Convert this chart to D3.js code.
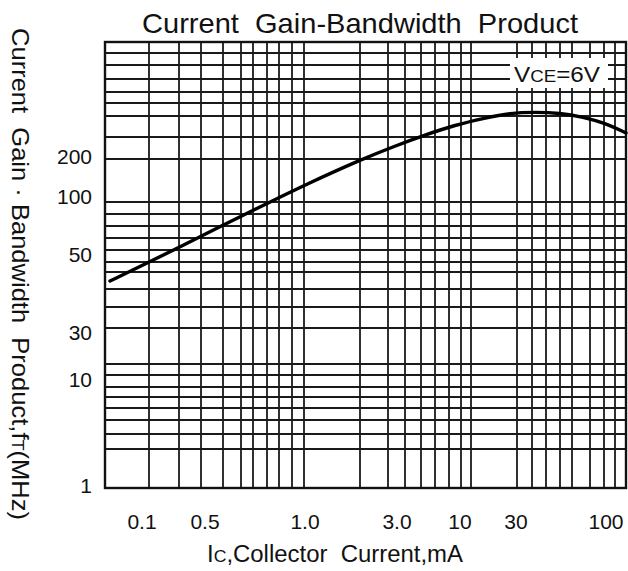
<!DOCTYPE html>
<html>
<head>
<meta charset="utf-8">
<script src="https://cdn.jsdelivr.net/npm/d3@7"></script>
<style>
    html, body { margin: 0; padding: 0; background: #fff; }
    svg text { font-family: "Liberation Sans", Arial, sans-serif; fill: #111; }
</style>
</head>
<body>
<div id="chart"></div>
<script>
/* =====================================================
   Current Gain-Bandwidth Product (datasheet style graph)
   The printed grid is not a true log grid, so both axes
   use "grid units" measured off the sheet (0 = left/top edge).
   ===================================================== */

// vertical grid lines, x grid units
const xGridLines = [0, 44, 74, 96, 118, 136, 148, 162, 174, 187, 199,
    255, 283, 300, 316, 330, 344, 356, 366,
    412, 427, 441, 455, 467, 485, 499, 510, 521];

// horizontal grid lines, y grid units (0 = top)
const yGridLines = [0, 11, 23, 37, 50, 61, 74, 95, 117, 160, 172, 184, 196, 208,
    220, 230, 247, 265, 286, 322, 333, 345, 355, 366, 378, 392, 407, 446];

// tick labels and where they sit on the sheet
const xTickLabels = ['0.1', '0.5', '1.0', '3.0', '10', '30', '100'];
const xTickUnits = [37, 100, 200, 292, 355, 411, 501];

const yTickLabels = ['200', '100', '50', '30', '10', '1'];
const yTickUnits = [115, 155, 213, 291, 338, 444];

// fT curve at VCE = 6V
const curveX = [5, 40, 75, 120, 165, 202, 255, 290, 320, 350, 380, 405, 430, 455, 478, 500, 521];
const curveY = [239, 222, 205, 182, 160, 142, 118, 104, 93, 83, 76, 71, 70, 71, 75, 81, 91];

const config = {
    width: 628,
    height: 571,
    margin: { top: 42, right: 2, bottom: 83, left: 105 },
    gridColor: '#1a1a1a'
};

const svg = d3.select('#chart').append('svg')
    .attr('width', config.width)
    .attr('height', config.height);

const innerW = config.width - config.margin.left - config.margin.right;
const innerH = config.height - config.margin.top - config.margin.bottom;

const xScale = d3.scaleLinear().domain([0, 521]).range([0, innerW]);
const yScale = d3.scaleLinear().domain([0, 446]).range([0, innerH]);

const chart = svg.append('g')
    .attr('transform', `translate(${config.margin.left},${config.margin.top})`);

// grid
chart.append('g').attr('class', 'x-grid')
    .selectAll('line')
    .data(xGridLines)
    .join('line')
    .attr('x1', d => xScale(d)).attr('x2', d => xScale(d))
    .attr('y1', 0).attr('y2', innerH)
    .attr('stroke', config.gridColor)
    .attr('stroke-width', 1.8);

chart.append('g').attr('class', 'y-grid')
    .selectAll('line')
    .data(yGridLines)
    .join('line')
    .attr('x1', 0).attr('x2', innerW)
    .attr('y1', d => yScale(d)).attr('y2', d => yScale(d))
    .attr('stroke', config.gridColor)
    .attr('stroke-width', 1.8);

// frame
chart.append('rect')
    .attr('x', 0).attr('y', 0)
    .attr('width', innerW).attr('height', innerH)
    .attr('fill', 'none')
    .attr('stroke', '#111')
    .attr('stroke-width', 2.4);

// curve
const line = d3.line()
    .x(d => xScale(d[0]))
    .y(d => yScale(d[1]))
    .curve(d3.curveBasis);

chart.append('path')
    .datum(d3.zip(curveX, curveY))
    .attr('d', line)
    .attr('fill', 'none')
    .attr('stroke', '#000')
    .attr('stroke-width', 3.4)
    .attr('stroke-linecap', 'round');

// VCE label with white box behind it
const lab = chart.append('g')
    .attr('transform', `translate(${xScale(405)},${yScale(16)})`);
lab.append('rect')
    .attr('x', 0).attr('y', 0)
    .attr('width', xScale(98)).attr('height', yScale(30))
    .attr('fill', '#fff');
const labText = lab.append('text')
    .attr('x', 4).attr('y', yScale(24))
    .attr('textLength', 86)
    .attr('lengthAdjust', 'spacingAndGlyphs')
    .style('font-size', '22px');
labText.append('tspan').text('V');
labText.append('tspan').style('font-size', '17px').text('CE');
labText.append('tspan').text('=6V');

// tick labels
svg.append('g').attr('class', 'x-ticks')
    .selectAll('text')
    .data(d3.zip(xTickLabels, xTickUnits))
    .join('text')
    .attr('x', d => config.margin.left + xScale(d[1]))
    .attr('y', 529)
    .attr('text-anchor', 'middle')
    .style('font-size', '21px')
    .text(d => d[0]);

svg.append('g').attr('class', 'y-ticks')
    .selectAll('text')
    .data(d3.zip(yTickLabels, yTickUnits))
    .join('text')
    .attr('x', 92)
    .attr('y', d => config.margin.top + yScale(d[1]))
    .attr('dy', '0.35em')
    .attr('text-anchor', 'end')
    .style('font-size', '21px')
    .text(d => d[0]);

// title
svg.append('text')
    .attr('x', 360).attr('y', 33)
    .attr('text-anchor', 'middle')
    .attr('textLength', 436)
    .attr('lengthAdjust', 'spacingAndGlyphs')
    .style('font-size', '28px')
    .attr('xml:space', 'preserve')
    .text('Current  Gain-Bandwidth  Product');

// x axis label
const xLab = svg.append('text')
    .attr('x', 335).attr('y', 562)
    .attr('text-anchor', 'middle')
    .attr('textLength', 256)
    .attr('lengthAdjust', 'spacingAndGlyphs')
    .style('font-size', '23px')
    .attr('xml:space', 'preserve');
xLab.append('tspan').text('I');
xLab.append('tspan').style('font-size', '17px').text('C');
xLab.append('tspan').text(',Collector  Current,mA');

// y axis label (reads top to bottom)
const yLab = svg.append('text')
    .attr('transform', 'translate(12,274) rotate(90)')
    .attr('text-anchor', 'middle')
    .attr('textLength', 492)
    .attr('lengthAdjust', 'spacingAndGlyphs')
    .style('font-size', '24px')
    .attr('xml:space', 'preserve');
yLab.append('tspan').text('Current  Gain · Bandwidth  Product,f');
yLab.append('tspan').style('font-size', '17px').text('T');
yLab.append('tspan').text('(MHz)');
</script>
</body>
</html>
